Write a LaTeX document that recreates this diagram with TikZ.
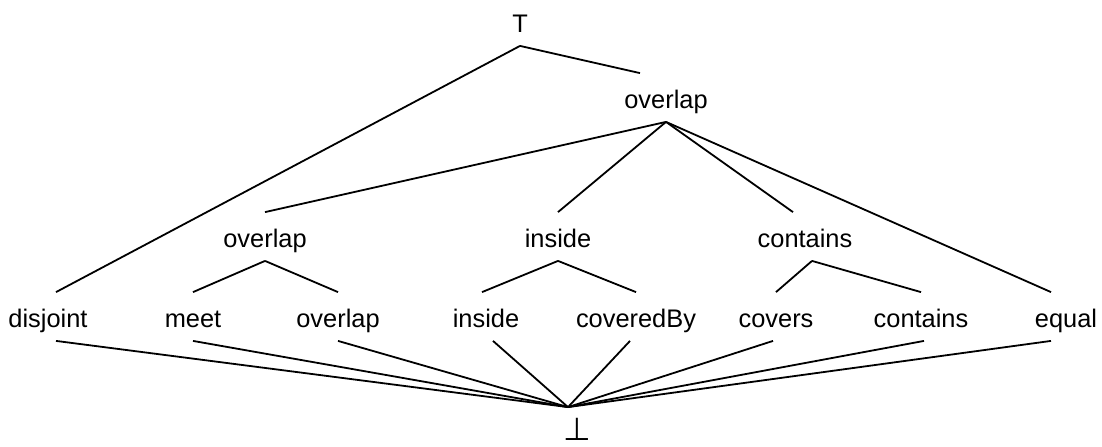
\documentclass[tikz,border=0pt]{standalone}
\usepackage{fontspec}
\setmainfont{Liberation Sans}
\newfontfamily\symfont{DejaVu Sans}
\usetikzlibrary{positioning}

\begin{document}
\begin{tikzpicture}[x=0.5pt,y=-0.5pt,line width=0.9pt,
  lattice node/.style={anchor=base,inner sep=0pt,text height=17pt,text depth=6.5pt,
    font=\fontsize{12.7}{15}\selectfont}]
  \useasboundingbox (0,0) rectangle (1102,446);

  \node[lattice node] (top) at (520,32) {T};
  \node[lattice node] (ov) at (666,108) {overlap};

  \node[lattice node] (ov2) at (265,247) {overlap};
  \node[lattice node] (in2) at (558,247) {inside};
  \node[lattice node] (co2) at (805,247) {contains};

  \node[lattice node] (disj) at (48,327) {disjoint};
  \node[lattice node] (meet) at (193,327) {meet};
  \node[lattice node] (ovl) at (338,327) {overlap};
  \node[lattice node] (ins) at (486,327) {inside};
  \node[lattice node] (cby) at (636,327) {coveredBy};
  \node[lattice node] (cov) at (776,327) {covers};
  \node[lattice node] (cont) at (921,327) {contains};
  \node[lattice node] (eq) at (1066,327) {equal};

  \node[lattice node] (bot) at (577,440) {\symfont\scalebox{1.25}{⊥}};
  \coordinate (bv) at ([xshift=-4.5pt,yshift=-1pt]bot.north);

  \path
    (top.south) edge ([xshift=4pt]disj.north)
    (top.south) edge ([xshift=-13pt]ov.north)
    (ov.south) edge (ov2.north)
    (ov.south) edge (in2.north)
    (ov.south) edge ([xshift=-6pt]co2.north)
    (ov.south) edge ([xshift=-7.5pt]eq.north)
    (ov2.south) edge (meet.north)
    (ov2.south) edge (ovl.north)
    (in2.south) edge ([xshift=-2pt]ins.north)
    (in2.south) edge (cby.north)
    ([xshift=3.5pt]co2.south) edge (cov.north)
    ([xshift=3.5pt]co2.south) edge (cont.north);

  \path
    ([xshift=4pt]disj.south) edge (bv)
    (meet.south) edge (bv)
    (ovl.south) edge (bv)
    ([xshift=3.5pt]ins.south) edge (bv)
    ([xshift=-3pt]cby.south) edge (bv)
    ([xshift=-1.5pt]cov.south) edge (bv)
    ([xshift=1.5pt]cont.south) edge (bv)
    ([xshift=-7.5pt]eq.south) edge (bv);
\end{tikzpicture}
\end{document}
